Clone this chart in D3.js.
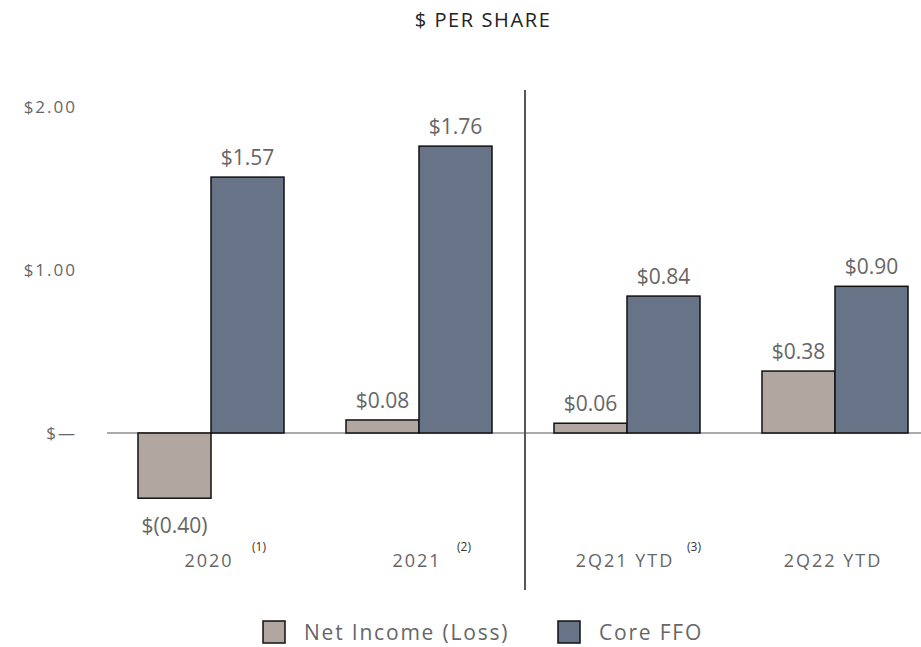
<!DOCTYPE html>
<html>
<head>
<meta charset="utf-8">
<script src="https://cdn.jsdelivr.net/npm/d3@7"></script>
<style>
  body { margin: 0; background: #fff; }
  text { font-family: "Open Sans", "DejaVu Sans", sans-serif; }
</style>
</head>
<body>
<script>
// Chart data
var categories = ["2020", "2021", "2Q21 YTD", "2Q22 YTD"];
var footnotes = ["(1)", "(2)", "(3)", ""];
var seriesNames = ["Net Income (Loss)", "Core FFO"];
var netIncome = [-0.40, 0.08, 0.06, 0.38];
var coreFFO = [1.57, 1.76, 0.84, 0.90];
var valueLabels = [["$(0.40)", "$0.08", "$0.06", "$0.38"], ["$1.57", "$1.76", "$0.84", "$0.90"]];
var yTicks = [0, 1, 2];
var yTickLabels = ["$\u2014", "$1.00", "$2.00"];

var svgWidth = 921, svgHeight = 647;
var colors = ["#b2a6a0", "#677487"];

var svg = d3.select("body").append("svg")
  .attr("width", svgWidth)
  .attr("height", svgHeight);

var yScale = d3.scaleLinear().domain([0, 2]).range([433, 107]);

var xGroup = d3.scaleBand().domain(categories).range([107, 939]).padding(0);
var xSub = d3.scaleBand().domain([0, 1])
  .range([xGroup.bandwidth() / 2 - 73, xGroup.bandwidth() / 2 + 73]);

// Title
svg.append("text")
  .attr("x", 483).attr("y", 27)
  .attr("text-anchor", "middle")
  .style("font-size", "20px")
  .style("letter-spacing", "1.6px")
  .attr("fill", "#222")
  .text("$ PER SHARE");

// Y tick labels (no axis line)
svg.selectAll(".ytick")
  .data(yTicks)
  .enter().append("text")
  .attr("x", 77)
  .attr("y", d => yScale(d))
  .attr("dy", "0.35em")
  .attr("text-anchor", "end")
  .attr("fill", "#666")
  .style("font-size", "17px")
  .style("letter-spacing", "2px")
  .text((d, i) => yTickLabels[i]);

// Zero line
svg.append("line")
  .attr("x1", 107).attr("x2", svgWidth)
  .attr("y1", yScale(0)).attr("y2", yScale(0))
  .attr("stroke", "#aaa").attr("stroke-width", 2);

// Divider between annual and YTD
svg.append("line")
  .attr("x1", 525).attr("x2", 525)
  .attr("y1", 90).attr("y2", 590)
  .attr("stroke", "#555").attr("stroke-width", 2);

var rows = categories.map((c, i) => ({ cat: c, vals: [netIncome[i], coreFFO[i]], idx: i }));

var groups = svg.selectAll(".grp")
  .data(rows)
  .enter().append("g")
  .attr("transform", d => `translate(${xGroup(d.cat)},0)`);

groups.selectAll("rect")
  .data(d => d.vals.map((v, s) => ({ v: v, s: s })))
  .enter().append("rect")
  .attr("x", d => xSub(d.s))
  .attr("width", xSub.bandwidth())
  .attr("y", d => yScale(Math.max(0, d.v)))
  .attr("height", d => Math.abs(yScale(d.v) - yScale(0)))
  .attr("fill", d => colors[d.s])
  .attr("stroke", "#111")
  .attr("stroke-width", 1.5);

groups.selectAll(".val")
  .data(d => d.vals.map((v, s) => ({ v: v, s: s, i: d.idx })))
  .enter().append("text")
  .attr("x", d => xSub(d.s) + xSub.bandwidth() / 2)
  .attr("y", d => d.v >= 0 ? yScale(d.v) - 12 : yScale(d.v) + 35)
  .attr("text-anchor", "middle")
  .attr("fill", "#666")
  .style("font-size", "21px")
  .text(d => valueLabels[d.s][d.i]);

// Category labels
groups.append("text")
  .attr("x", xGroup.bandwidth() / 2 - 2)
  .attr("y", 567)
  .attr("text-anchor", "middle")
  .attr("fill", "#666")
  .style("font-size", "18px")
  .style("letter-spacing", "2px")
  .text(d => d.cat);

groups.append("text")
  .attr("x", (d, i) => [48, 45, 67, 0][i] + xGroup.bandwidth() / 2)
  .attr("y", 551)
  .attr("text-anchor", "middle")
  .attr("fill", "#333")
  .style("font-size", "12px")
  .text(d => footnotes[d.idx]);

// Legend
var legendX = [263, 558];
var legend = svg.selectAll(".legend")
  .data(seriesNames)
  .enter().append("g")
  .attr("transform", (d, i) => `translate(${legendX[i]},621)`);

legend.append("rect")
  .attr("width", 22).attr("height", 22)
  .attr("fill", (d, i) => colors[i])
  .attr("stroke", "#111").attr("stroke-width", 1.5);

legend.append("text")
  .attr("x", 41).attr("y", 12)
  .attr("dy", "0.35em")
  .attr("fill", "#666")
  .style("font-size", "21px")
  .style("letter-spacing", "1.8px")
  .text(d => d);
</script>
</body>
</html>
